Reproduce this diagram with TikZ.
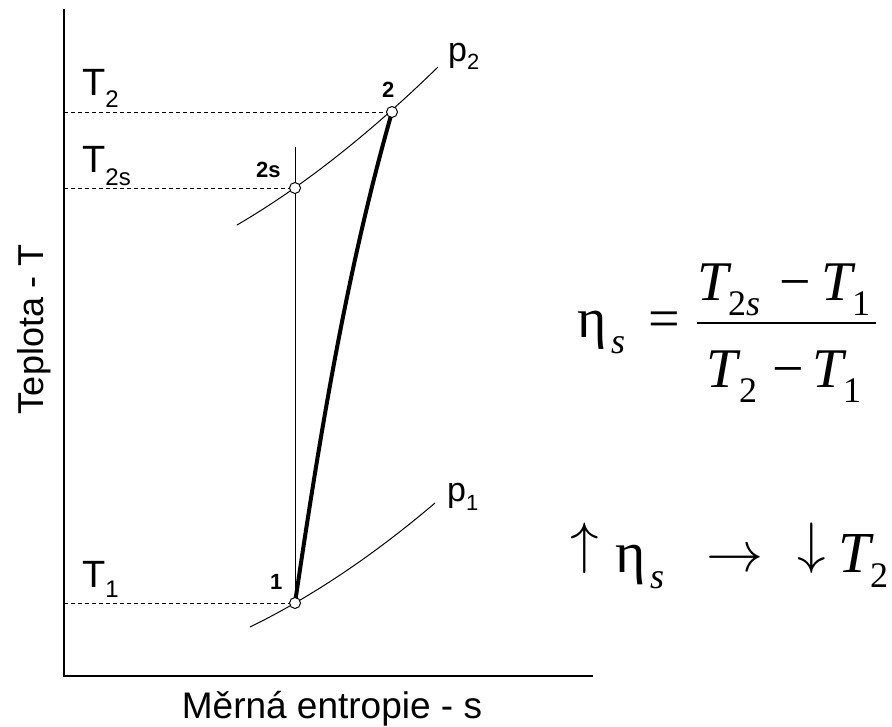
\documentclass[tikz,border=0pt]{standalone}
\usepackage{fontspec}
\usepackage{graphicx}
\setmainfont{Liberation Sans}
\newfontfamily\tms{Liberation Serif}
\newcommand{\lsub}[3]{\raisebox{-#1pt}{\fontsize{#2}{#2}\selectfont #3}}
\newcommand{\bigarrow}[1]{\scalebox{5.7}{$#1$}}
\begin{document}
\begin{tikzpicture}[x=1pt,y=-1pt,
  lbl/.style={inner sep=0pt, anchor=base west, font=\fontsize{38}{38}\selectfont},
  plbl/.style={inner sep=0pt, anchor=base west, font=\fontsize{34}{34}\selectfont},
  ptlbl/.style={inner sep=0pt, anchor=base west, font=\fontsize{22}{22}\selectfont\bfseries},
  statept/.style={circle, draw, fill=white, minimum size=11pt, inner sep=0pt, line width=1pt},
  axisline/.style={line width=1.8pt},
  thinline/.style={line width=1pt},
  guide/.style={line width=0.9pt, dash pattern=on 4pt off 3pt},
  processline/.style={line width=4pt},
  big/.style={inner sep=0pt, anchor=base west, font=\fontsize{56}{56}\selectfont\tms},
  bigsub/.style={inner sep=0pt, anchor=base west, font=\fontsize{36}{36}\selectfont\tms},
  bigb/.style={inner sep=0pt, anchor=base west, font=\fontsize{58}{58}\selectfont\tms},
  arr/.style={inner sep=0pt, anchor=base west},
]
\useasboundingbox (0,0) rectangle (892,726);

% coordinates
\coordinate (O) at (64,676);
\coordinate (ytop) at (64,9);
\coordinate (xend) at (593,676);
\coordinate (c1) at (295,603);
\coordinate (c2s) at (295,188);
\coordinate (c2) at (392,112);
\coordinate (g2) at (64,112);
\coordinate (g2s) at (64,188);
\coordinate (g1) at (64,603);
\coordinate (vtop) at (295,147);
\coordinate (p2a) at (237,225);
\coordinate (p2b) at (438,67);
\coordinate (p1a) at (250,627);
\coordinate (p1b) at (435,503);

% axes
\draw[axisline] (ytop) -- (O) -- (xend);

% guide lines
\draw[guide] (g2) -- (c2);
\draw[guide] (g2s) -- (c2s);
\draw[guide] (g1) -- (c1);

% isentropic vertical
\draw[thinline] (vtop) -- (c1);

% isobars
\draw[thinline] (p2a) .. controls (300.6,187.9) and (367.6,135.6) .. (p2b);
\draw[thinline] (p1a) .. controls (311.6,596.9) and (373.3,555.5) .. (p1b);

% real process
\draw[processline] (c1) .. controls (319.5,437.7) and (346,273) .. (c2);

% state points
\node[statept] (n1) at (c1) {};
\node[statept] (n2s) at (c2s) {};
\node[statept] (n2) at (c2) {};

% point labels
\node[ptlbl] (l2) at (382,97) {2};
\node[ptlbl] (l2s) at (256,177) {2s};
\node[ptlbl] (l1) at (270,589) {1};

% temperature labels
\node[lbl] (T2) at (82,95) {T\lsub{12}{24}{2}};
\node[lbl] (T2s) at (82,172) {T\lsub{13}{24}{2s}};
\node[lbl] (T1) at (82,587) {T\lsub{10}{24}{1}};

% pressure labels
\node[plbl] (p2) at (448,61) {p\lsub{8}{22}{2}};
\node[plbl] (p1) at (447,501) {p\lsub{9}{22}{1}};

% axis titles
\node[inner sep=0pt, anchor=base, font=\fontsize{37}{37}\selectfont] (xl) at (332,718) {Měrná entropie - s};
\node[inner sep=0pt, anchor=base, rotate=90, font=\fontsize{36}{36}\selectfont] (yl) at (43,329) {Teplota - T};

% efficiency formula
\node[big] (eta) at (577,337) {η};
\node[bigsub] (etas) at (611,353) {\itshape s};
\node[big] (eq) at (648,337) {=};
\node[big] (nT) at (697,300) {\itshape T};
\node[bigsub] (nTs) at (728,315) {2\itshape s};
\node[big] (nm) at (779,300) {−};
\node[big] (nT1) at (821,300) {\itshape T};
\node[bigsub] (nT1s) at (852,315) {1};
\coordinate (fl) at (697,323);
\coordinate (fr) at (876,323);
\draw[line width=2pt] (fl) -- (fr);
\node[big] (dT) at (706,387) {\itshape T};
\node[bigsub] (dTs) at (739,402) {2};
\node[big] (dm) at (772,387) {−};
\node[big] (dT1) at (812,387) {\itshape T};
\node[bigsub] (dT1s) at (843,402) {1};

% trend line
\node[arr] (up) at (570,562) {\bigarrow{\uparrow}};
\node[bigb] (eta2) at (615,572) {η};
\node[bigsub] (eta2s) at (650,588) {\itshape s};
\node[arr] (ra) at (706,571) {\bigarrow{\rightarrow}};
\node[arr] (dn) at (797,562) {\bigarrow{\downarrow}};
\node[bigb] (tT) at (838,572) {\itshape T};
\node[bigsub] (tTs) at (870,587) {2};
\end{tikzpicture}
\end{document}
